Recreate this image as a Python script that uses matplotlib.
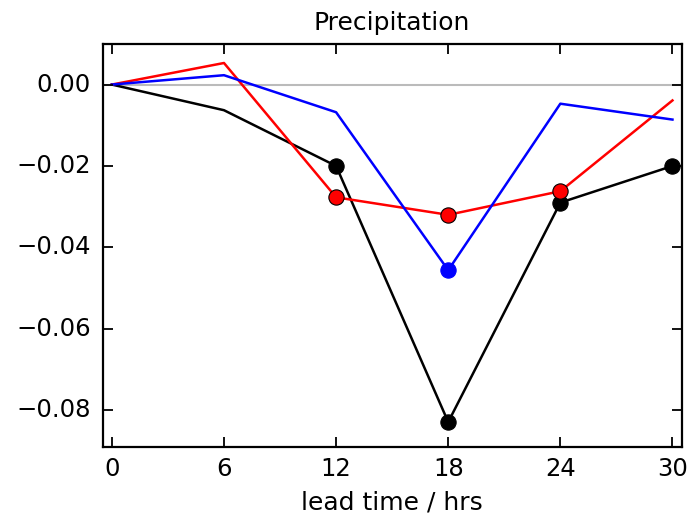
import matplotlib
matplotlib.use("Agg")
import matplotlib.pyplot as plt
import numpy as np

plt.style.use('classic')

lead_hours = [0, 6, 12, 18, 24, 30]
black_vals = [0.0, -0.0063, -0.0200, -0.0829, -0.0290, -0.0200]
red_vals = [0.0, 0.0053, -0.0277, -0.0320, -0.0262, -0.0039]
blue_vals = [0.0, 0.0023, -0.0068, -0.0456, -0.0047, -0.0086]
black_sig = [False, False, True, True, True, True]
red_sig = [False, False, True, True, True, False]
blue_sig = [False, False, False, True, False, False]

fig = plt.figure(figsize=(6.88, 5.16), dpi=100, facecolor='white')
ax = fig.add_axes([0.149, 0.134, 0.842, 0.781])
ax.axhline(0, color='#bbbbbb', lw=1.5, zorder=1)

x = np.array(lead_hours)
for vals, sig, col in [(black_vals, black_sig, 'k'), (red_vals, red_sig, 'r'), (blue_vals, blue_sig, 'b')]:
    v = np.array(vals)
    s = np.array(sig)
    ax.plot(x, v, color=col, lw=1.8, zorder=2)
    ax.plot(x[s], v[s], ls='none', marker='o', ms=11, mfc=col,
            mec='k' if col != 'b' else 'b', mew=0.8, zorder=3)

ax.set_xlim(-0.5, 30.5)
ax.set_ylim(-0.089, 0.01)
ax.set_xticks(lead_hours)
ax.set_yticks([0.0, -0.02, -0.04, -0.06, -0.08])
ax.set_yticklabels(['0.00', '\u22120.02', '\u22120.04', '\u22120.06', '\u22120.08'])
for sp in ax.spines.values():
    sp.set_linewidth(1.6)
ax.tick_params(labelsize=17.5, length=7, width=1.3)
ax.tick_params(axis='y', pad=8.5)
ax.tick_params(axis='x', pad=7)
ax.set_xlabel('lead time / hrs', fontsize=18, labelpad=7)
ax.set_title('Precipitation', fontsize=18, pad=10)

fig.savefig('out.png', dpi=100, facecolor='white')
